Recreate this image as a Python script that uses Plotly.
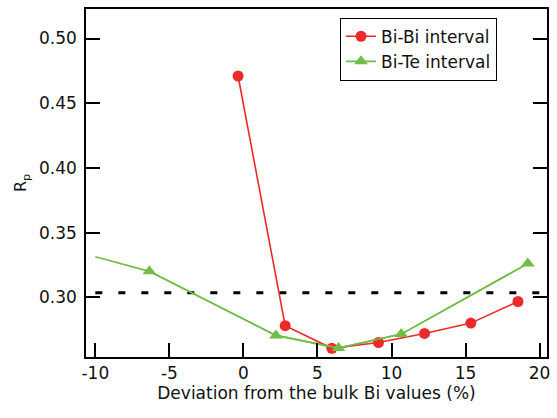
import plotly.graph_objects as go

# Data
bibi_x = [-0.36, 2.82, 5.97, 9.12, 12.23, 15.36, 18.54]
bibi_y = [0.471, 0.278, 0.2605, 0.265, 0.272, 0.280, 0.2967]

bite_x = [-10.0, -6.35, 2.2, 6.42, 10.66, 19.2]
bite_y = [0.3313, 0.320, 0.2705, 0.2607, 0.2715, 0.326]

ref_x = [-10, 20]
ref_y = [0.3035, 0.3035]

xticks = [-10, -5, 0, 5, 10, 15, 20]
yticks = [0.30, 0.35, 0.40, 0.45, 0.50]

red = "#ec2a2a"
green = "#71bd45"

fig = go.Figure()
fig.add_trace(go.Scatter(x=ref_x, y=ref_y, mode="lines", showlegend=False,
                         line=dict(color="black", width=3, dash="7px,16px")))
fig.add_trace(go.Scatter(x=bite_x, y=bite_y, mode="lines", showlegend=False,
                         line=dict(color=green, width=1.6)))
fig.add_trace(go.Scatter(x=bibi_x, y=bibi_y, mode="lines+markers", name="Bi-Bi interval",
                         line=dict(color=red, width=1.6),
                         marker=dict(color=red, size=11, symbol="circle")))
fig.add_trace(go.Scatter(x=bite_x[1:], y=bite_y[1:], mode="lines+markers", name="Bi-Te interval",
                         line=dict(color=green, width=1.6),
                         marker=dict(color=green, size=12, symbol="triangle-up")))

font = "DejaVu Sans, Arial, sans-serif"
fig.update_layout(
    width=557, height=418,
    margin=dict(l=86, r=10, t=7, b=61),
    plot_bgcolor="white", paper_bgcolor="white",
    font=dict(family=font, color="#111111", size=16),
    legend=dict(x=0.551, y=0.975, xanchor="left", yanchor="top",
                bordercolor="black", borderwidth=1, bgcolor="white",
                font=dict(size=17), tracegroupgap=0),
    xaxis=dict(range=[-10.63, 20.5], tickvals=xticks, ticktext=[str(v) for v in xticks],
               ticks="inside", ticklen=14, tickwidth=1.5, tickcolor="black",
               showline=True, linecolor="black", linewidth=1.5, mirror=True,
               showgrid=False, zeroline=False,
               tickfont=dict(size=17),
               title=dict(text="Deviation from the bulk Bi values (%)", font=dict(size=17), standoff=2)),
    yaxis=dict(range=[0.2538, 0.5228], tickvals=yticks, ticktext=[f"{v:.2f}" for v in yticks],
               ticks="inside", ticklen=14, tickwidth=1.5, tickcolor="black",
               showline=True, linecolor="black", linewidth=1.5, mirror="ticks",
               showgrid=False, zeroline=False,
               tickfont=dict(size=17), ticklabelstandoff=4,
               title=dict(text="R<sub>p</sub>", font=dict(size=16), standoff=8)),
)
fig.write_html("out.html")
